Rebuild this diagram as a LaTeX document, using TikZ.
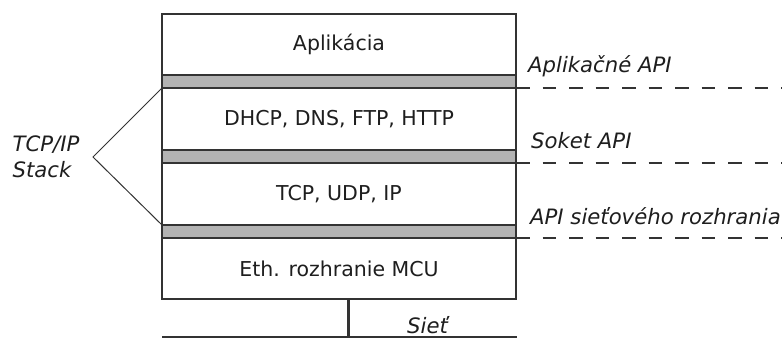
\documentclass[tikz,border=0pt]{standalone}
\usepackage{fontspec}
\setmainfont{DejaVu Sans}
\usepackage{xcolor}
\definecolor{bandgray}{HTML}{B3B3B3}
\definecolor{linegray}{HTML}{333333}
\definecolor{textdark}{HTML}{1E1E1E}
\tikzset{
    layer/.style ={rectangle,minimum width=354pt,minimum height=62pt,inner sep=0pt,outer sep=0pt,draw=linegray,line width=1.3pt,text=textdark,font=\fontsize{20.5}{24}\selectfont},
    band/.style ={rectangle,minimum width=354pt,minimum height=13pt,inner sep=0pt,outer sep=0pt,draw=linegray,line width=1.3pt,fill=bandgray},
    apilabel/.style ={anchor=west,inner sep=0pt,text=textdark,font=\fontsize{21.2}{24}\selectfont\itshape},
    apiline/.style ={draw=linegray,line width=1.6pt,dash pattern=on 13.5pt off 13pt},
    thin/.style ={draw=linegray,line width=1.3pt}
}
\begin{document}
\begin{tikzpicture}[x=1pt,y=-1pt]
    \useasboundingbox (0,0) rectangle (782,338);
    % vrstvy
    \node[layer,minimum height=61pt] (app) at (339,44.5) {Aplik\'acia};
    \node[band] (b1) at (339,81.5) {};
    \node[layer] (dhcp) at (339,119) {DHCP, DNS, FTP, HTTP};
    \node[band] (b2) at (339,156.5) {};
    \node[layer] (tcp) at (339,194) {TCP, UDP, IP};
    \node[band] (b3) at (339,231.5) {};
    \node[layer,minimum height=61pt] (eth) at (339,268.5) {Eth. rozhranie MCU};
    % API rozhrania
    \coordinate (e1) at (782,88);
    \coordinate (e2) at (782,163);
    \coordinate (e3) at (782,238);
    \draw[apiline] (b1.south east) -- (e1);
    \draw[apiline] (b2.south east) -- (e2);
    \draw[apiline] (b3.south east) -- (e3);
    \node[apilabel] (l1) at (528,66) {Aplika\v{c}n\'e API};
    \node[apilabel] (l2) at (531,141) {Soket API};
    \node[apilabel] (l3) at (530,216) {API sie\v{t}ov\'eho rozhrania};
    % TCP/IP stack
    \coordinate (apex) at (93,157);
    \draw[thin,line width=1pt] (dhcp.north west) -- (apex) -- (tcp.south west);
    \node[apilabel,anchor=center,align=left,font=\fontsize{21.2}{26}\selectfont\itshape] (stack) at (46,157) {TCP/IP\\Stack};
    % siet
    \coordinate (net) at (348,337);
    \coordinate (netl) at (162,337);
    \coordinate (netr) at (517,337);
    \draw[linegray,line width=3pt] (net |- eth.south) -- (net);
    \draw[thin] (netl) -- (netr);
    \node[apilabel] (siet) at (407,325) {Sie\v{t}};
\end{tikzpicture}
\end{document}
